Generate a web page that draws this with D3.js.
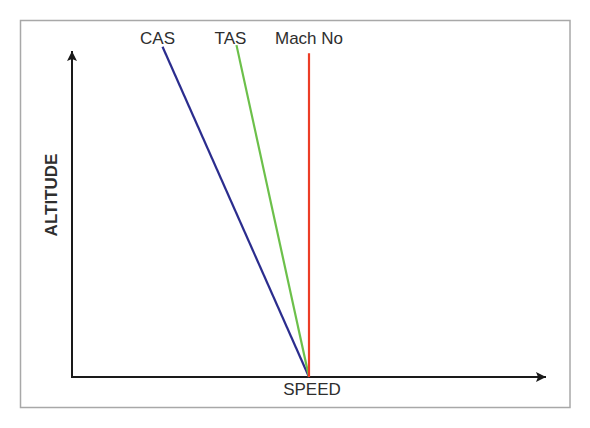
<!DOCTYPE html>
<html>
<head>
<meta charset="utf-8">
<script src="https://cdn.jsdelivr.net/npm/d3@7"></script>
<style>
  body { margin: 0; background: #fff; }
  text { font-family: "Liberation Sans", Arial, sans-serif; fill: #2e2e2e; }
</style>
</head>
<body>
<div id="chart"></div>
<script>
// speed / altitude in arbitrary units (axes have no ticks)
var series = ["CAS", "TAS", "Mach No"];
var colors = ["#2b2d8e", "#6cc04a", "#ec3d26"];
var startSpeed = [50, 50, 50];
var startAlt = [0, 0, 0];
var endSpeed = [19.1, 34.7, 50];
var endAlt = [101.3, 101.8, 99.3];
var xLabel = "SPEED";
var yLabel = "ALTITUDE";

var width = 590, height = 428;

var svg = d3.select("#chart")
    .append("svg")
    .attr("width", width)
    .attr("height", height);

// outer frame
svg.append("rect")
    .attr("x", 20.5)
    .attr("y", 20.5)
    .attr("width", 549.5)
    .attr("height", 387)
    .attr("fill", "white")
    .attr("stroke", "#a8a8a8")
    .attr("stroke-width", 1.5);

var x = d3.scaleLinear().domain([0, 100]).range([72, 546]);
var y = d3.scaleLinear().domain([0, 100]).range([377, 51]);

var defs = svg.append("defs");
defs.append("marker")
    .attr("id", "arrow")
    .attr("viewBox", "0 0 10 10")
    .attr("refX", 10)
    .attr("refY", 5)
    .attr("markerUnits", "userSpaceOnUse")
    .attr("markerWidth", 11)
    .attr("markerHeight", 10)
    .attr("orient", "auto")
    .append("path")
    .attr("d", "M0,0 L10,5 L0,10 L2,5 Z")
    .attr("fill", "#1a1a1a");

// axes
svg.append("line")
    .attr("x1", x(0)).attr("y1", y(0))
    .attr("x2", x(100)).attr("y2", y(0))
    .attr("stroke", "#1a1a1a")
    .attr("stroke-width", 2)
    .attr("marker-end", "url(#arrow)");

svg.append("line")
    .attr("x1", x(0)).attr("y1", y(0) + 1)
    .attr("x2", x(0)).attr("y2", y(100))
    .attr("stroke", "#1a1a1a")
    .attr("stroke-width", 2)
    .attr("marker-end", "url(#arrow)");

var data = series.map(function(s, i) {
    return {name: s, color: colors[i],
            x0: startSpeed[i], y0: startAlt[i], x1: endSpeed[i], y1: endAlt[i]};
});

svg.selectAll(".speed-line")
    .data(data)
    .enter()
    .append("line")
    .attr("class", "speed-line")
    .attr("x1", d => x(d.x0))
    .attr("y1", d => y(d.y0))
    .attr("x2", d => x(d.x1))
    .attr("y2", d => y(d.y1))
    .attr("stroke", d => d.color)
    .attr("stroke-width", 2.2);

svg.selectAll(".speed-label")
    .data(data)
    .enter()
    .append("text")
    .attr("class", "speed-label")
    .attr("x", d => x(d.x1) - (d.name == "Mach No" ? 0 : (d.name == "CAS" ? 5 : 6)))
    .attr("y", 44)
    .attr("text-anchor", "middle")
    .attr("font-size", "17px")
    .text(d => d.name);

svg.append("text")
    .attr("x", 312)
    .attr("y", 395)
    .attr("text-anchor", "middle")
    .attr("font-size", "17px")
    .text(xLabel);

svg.append("text")
    .attr("transform", "translate(57,195) rotate(-90)")
    .attr("text-anchor", "middle")
    .attr("font-size", "17px")
    .attr("font-weight", "bold")
    .text(yLabel);
</script>
</body>
</html>
